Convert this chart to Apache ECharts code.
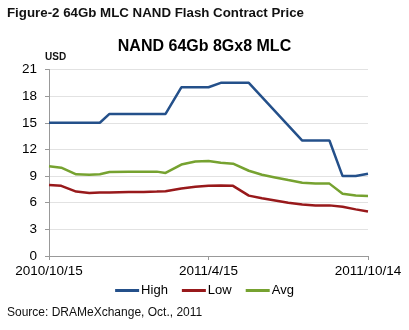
<!DOCTYPE html>
<html><head><meta charset="utf-8">
<script src="https://cdn.jsdelivr.net/npm/echarts@6/dist/echarts.min.js"></script>
<style>html,body{margin:0;padding:0;background:#fff}#c{width:409px;height:330px}</style>
</head><body><div id="c"></div>
<script>
var dates = ['2010/10/15','2010/10/29','2010/11/15','2010/11/30','2010/12/12','2010/12/23','2011/1/14','2011/1/31','2011/2/15','2011/2/25','2011/3/15','2011/3/31','2011/4/15','2011/4/29','2011/5/13','2011/5/31','2011/6/15','2011/6/30','2011/7/15','2011/7/31','2011/8/15','2011/8/31','2011/9/15','2011/9/30','2011/10/14'];
var high = [15,null,null,null,15,16,null,null,null,16,19,null,19,19.5,null,19.5,null,null,null,13,null,13,9,9,9.25];
var low  = [8.0,7.9,7.25,7.1,7.15,7.15,7.2,7.2,7.25,7.3,7.6,7.8,7.9,7.95,7.9,6.8,6.5,6.25,6.0,5.8,5.7,5.7,5.55,5.25,5.0];
var avg  = [10.1,9.95,9.2,9.15,9.2,9.45,9.5,9.5,9.5,9.35,10.3,10.65,10.7,10.5,10.4,9.6,9.15,8.85,8.55,8.25,8.15,8.15,7.0,6.8,6.75];
var tickLabels = ['2010/10/15','2011/4/15','2011/10/14'];
var seriesNames = ['High','Low','Avg'];

function dayOf(s){var p=s.split('/');return (Date.UTC(+p[0],+p[1]-1,+p[2])-Date.UTC(2010,9,15))/86400000;}
var xs = dates.map(dayOf);
var xMax = dayOf(tickLabels[2]);
var xMid = dayOf(tickLabels[1]);
function pairs(v){return v.map(function(y,i){return [xs[i],y];});}
var font='"Liberation Sans", Arial, sans-serif';
var chart = echarts.init(document.getElementById('c'),null,{renderer:'canvas'});
chart.setOption({
  animation:false,
  backgroundColor:'#fff',
  title:[
    {text:'Figure-2 64Gb MLC NAND Flash Contract Price',left:7,top:7,padding:0,textStyle:{fontFamily:font,fontSize:13.3,fontWeight:'bold',color:'#111'}},
    {text:'NAND 64Gb 8Gx8 MLC',left:'center',top:39,padding:0,textStyle:{fontFamily:font,fontSize:16,fontWeight:'bold',color:'#000'}},
    {text:'USD',left:45,top:52,padding:0,textStyle:{fontFamily:font,fontSize:10,fontWeight:'bold',color:'#111'}},
    {text:'Source: DRAMeXchange, Oct., 2011',left:7,top:307,padding:0,textStyle:{fontFamily:font,fontSize:12,fontWeight:'normal',color:'#111'}}
  ],
  legend:{data:seriesNames,top:279,left:'center',itemWidth:24,itemHeight:3,itemGap:14,icon:'rect',
    textStyle:{fontFamily:font,fontSize:13,color:'#000',padding:[0,0,0,-3]}},
  grid:{left:49,right:41,top:69.5,bottom:74,containLabel:false},
  xAxis:{type:'value',min:0,max:xMax,interval:xMid,
    axisLine:{lineStyle:{color:'#999'}},
    axisTick:{show:true,length:4,lineStyle:{color:'#999'}},
    splitLine:{show:false},
    axisLabel:{fontFamily:font,fontSize:13.5,color:'#000',margin:8,showMinLabel:true,showMaxLabel:true,
      formatter:function(v){var i=[0,xMid,xMax].indexOf(v);return i>=0?tickLabels[i]:'';}}},
  yAxis:{type:'value',min:0,max:21,interval:3,
    axisLine:{show:true,lineStyle:{color:'#999'}},
    axisTick:{show:true,length:4,lineStyle:{color:'#999'}},
    splitLine:{lineStyle:{color:'#e2e2e2'}},
    axisLabel:{fontFamily:font,fontSize:13.5,color:'#000',margin:12}},
  series:[
    {name:'High',type:'line',data:pairs(high),connectNulls:true,symbol:'none',lineStyle:{width:2.5,color:'#24508a'},itemStyle:{color:'#24508a'}},
    {name:'Low',type:'line',data:pairs(low),symbol:'none',lineStyle:{width:2.5,color:'#98191b'},itemStyle:{color:'#98191b'}},
    {name:'Avg',type:'line',data:pairs(avg),symbol:'none',lineStyle:{width:2.5,color:'#76a230'},itemStyle:{color:'#76a230'}}
  ]
});
</script></body></html>
